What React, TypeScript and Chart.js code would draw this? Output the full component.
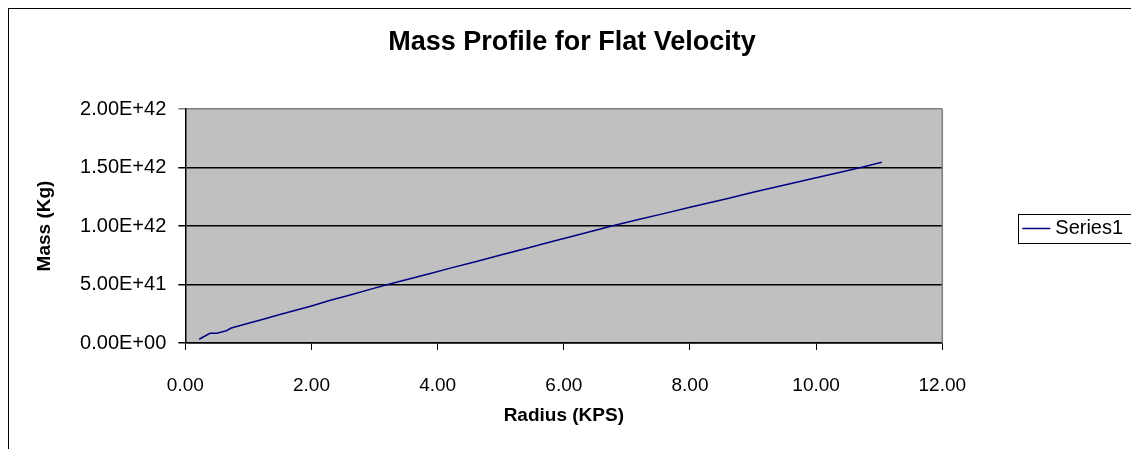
import React, { useEffect, useRef } from "react";
import { Chart, registerables } from "chart.js";

Chart.register(...registerables);

// ---- Data ----
const radiusKps: number[] = [
  0.22, 0.39, 0.5, 0.65, 0.73, 1.0, 1.25, 1.5, 1.75, 2.0, 2.3, 2.6, 3.0, 3.21,
  3.5, 3.9, 4.2, 4.6, 5.0, 5.4, 5.8, 6.2, 6.76, 7.2, 7.6, 8.0, 8.6, 9.0, 9.5,
  10.0, 10.4, 10.71, 11.04,
];
const massKg: number[] = [
  3.2e40, 8.3e40, 8.3e40, 1.05e41, 1.28e41, 1.68e41, 2.05e41, 2.43e41, 2.8e41,
  3.17e41, 3.65e41, 4.08e41, 4.69e41, 5.0e41, 5.41e41, 5.97e41, 6.4e41,
  6.95e41, 7.52e41, 8.08e41, 8.65e41, 9.21e41, 1.0e42, 1.057e42, 1.108e42,
  1.16e42, 1.235e42, 1.288e42, 1.35e42, 1.412e42, 1.462e42, 1.5e42, 1.544e42,
];
const seriesLabel = "Series1";
const chartTitle = "Mass Profile for Flat Velocity";
const xAxisTitle = "Radius (KPS)";
const yAxisTitle = "Mass (Kg)";
const xTickLabels: string[] = ["0.00", "2.00", "4.00", "6.00", "8.00", "10.00", "12.00"];
const yTickLabels: string[] = ["0.00E+00", "5.00E+41", "1.00E+42", "1.50E+42", "2.00E+42"];

const FONT = "'Liberation Sans', Arial, sans-serif";
const CANVAS_W = 1126;
const CANVAS_H = 446;

const plotDecor = {
  id: "plotDecor",
  beforeDraw(chart: any) {
    const { ctx, chartArea: a } = chart;
    ctx.save();
    ctx.fillStyle = "#C0C0C0";
    ctx.fillRect(a.left, a.top, a.right - a.left, a.bottom - a.top);
    ctx.restore();
  },
  afterDraw(chart: any) {
    const { ctx, chartArea: a } = chart;
    ctx.save();
    // right border of plot area
    ctx.strokeStyle = "#808080";
    ctx.lineWidth = 1.5;
    ctx.beginPath();
    ctx.moveTo(a.right, a.top);
    ctx.lineTo(a.right, a.bottom);
    ctx.stroke();

    // legend box
    const ds = chart.data.datasets[0];
    const cy = (a.top + a.bottom) / 2 + 2.5;
    const left = a.right + 76;
    ctx.strokeStyle = "#000";
    ctx.lineWidth = 1;
    ctx.strokeRect(Math.round(left) + 0.5, Math.round(cy - 15) + 0.5, 115, 29);
    ctx.strokeStyle = ds.borderColor;
    ctx.lineWidth = 1.5;
    ctx.beginPath();
    ctx.moveTo(left + 4, cy);
    ctx.lineTo(left + 32, cy);
    ctx.stroke();
    ctx.fillStyle = "#000";
    ctx.font = `20px ${FONT}`;
    ctx.textBaseline = "middle";
    ctx.textAlign = "left";
    ctx.fillText(ds.label, left + 37, cy);
    ctx.restore();
  },
};

export default function App() {
  const ref = useRef<HTMLCanvasElement | null>(null);

  useEffect(() => {
    if (!ref.current) return;
    const chart = new Chart(ref.current, {
      type: "line",
      data: {
        datasets: [
          {
            label: seriesLabel,
            data: radiusKps.map((r, i) => ({ x: r, y: massKg[i] })),
            borderColor: "#000080",
            borderWidth: 1.5,
            pointRadius: 0,
            tension: 0,
            fill: false,
          },
        ],
      },
      options: {
        animation: false,
        responsive: false,
        devicePixelRatio: 1,
        layout: { padding: { left: 20.6, right: 20.6, top: 0, bottom: 23.6 } },
        plugins: {
          legend: { display: false },
          tooltip: { enabled: false },
          title: {
            display: true,
            text: chartTitle,
            color: "#000",
            font: { family: FONT, size: 27, weight: "bold" },
            padding: { top: 17.8, bottom: 49.8 },
          },
        },
        scales: {
          x: {
            type: "linear",
            min: 0,
            max: 12,
            ticks: {
              stepSize: 2,
              color: "#000",
              font: { family: FONT, size: 19 },
              padding: 24.5,
              maxRotation: 0,
              callback: (_v: any, i: number) => xTickLabels[i],
            },
            grid: {
              drawOnChartArea: false,
              drawTicks: true,
              tickLength: 7,
              color: "#000",
              lineWidth: 1,
            },
            border: { display: true, color: "#000", width: 1.5 },
            title: {
              display: true,
              text: xAxisTitle,
              color: "#000",
              font: { family: FONT, size: 19, weight: "bold" },
              padding: { top: 4, bottom: 4 },
            },
            afterFit: (s: any) => {
              s.height = 88.4;
            },
          },
          y: {
            type: "linear",
            min: 0,
            max: 2e42,
            ticks: {
              stepSize: 5e41,
              color: "#000",
              font: { family: FONT, size: 20 },
              padding: 12,
              callback: (_v: any, i: number) => yTickLabels[i],
            },
            grid: {
              drawOnChartArea: true,
              drawTicks: true,
              tickLength: 7,
              color: (c: any) => (c.tick && c.tick.value >= 2e42 ? "#808080" : "#000"),
              lineWidth: 1.5,
            },
            border: { display: true, color: "#000", width: 1.5 },
            title: {
              display: true,
              text: yAxisTitle,
              color: "#000",
              font: { family: FONT, size: 19, weight: "bold" },
              padding: { top: 4, bottom: 4 },
            },
            afterFit: (s: any) => {
              s.width = 155.7;
            },
          },
          legendSpace: {
            type: "linear",
            position: "right",
            display: true,
            min: 0,
            max: 1,
            ticks: { display: false },
            grid: { display: false, drawTicks: false },
            border: { display: false },
            afterFit: (s: any) => {
              s.width = 172.1;
            },
          },
        },
      },
      plugins: [plotDecor],
    });
    return () => chart.destroy();
  }, []);

  return (
    <div
      style={{
        position: "fixed",
        left: 0,
        top: 0,
        width: 1131,
        height: 449,
        overflow: "hidden",
        background: "#fff",
      }}
    >
      <div
        style={{
          position: "absolute",
          left: 8,
          top: 8,
          border: "1px solid #000",
          width: CANVAS_W,
          height: CANVAS_H,
        }}
      >
        <canvas
          ref={ref}
          width={CANVAS_W}
          height={CANVAS_H}
          style={{ display: "block", width: CANVAS_W, height: CANVAS_H }}
        />
      </div>
    </div>
  );
}
